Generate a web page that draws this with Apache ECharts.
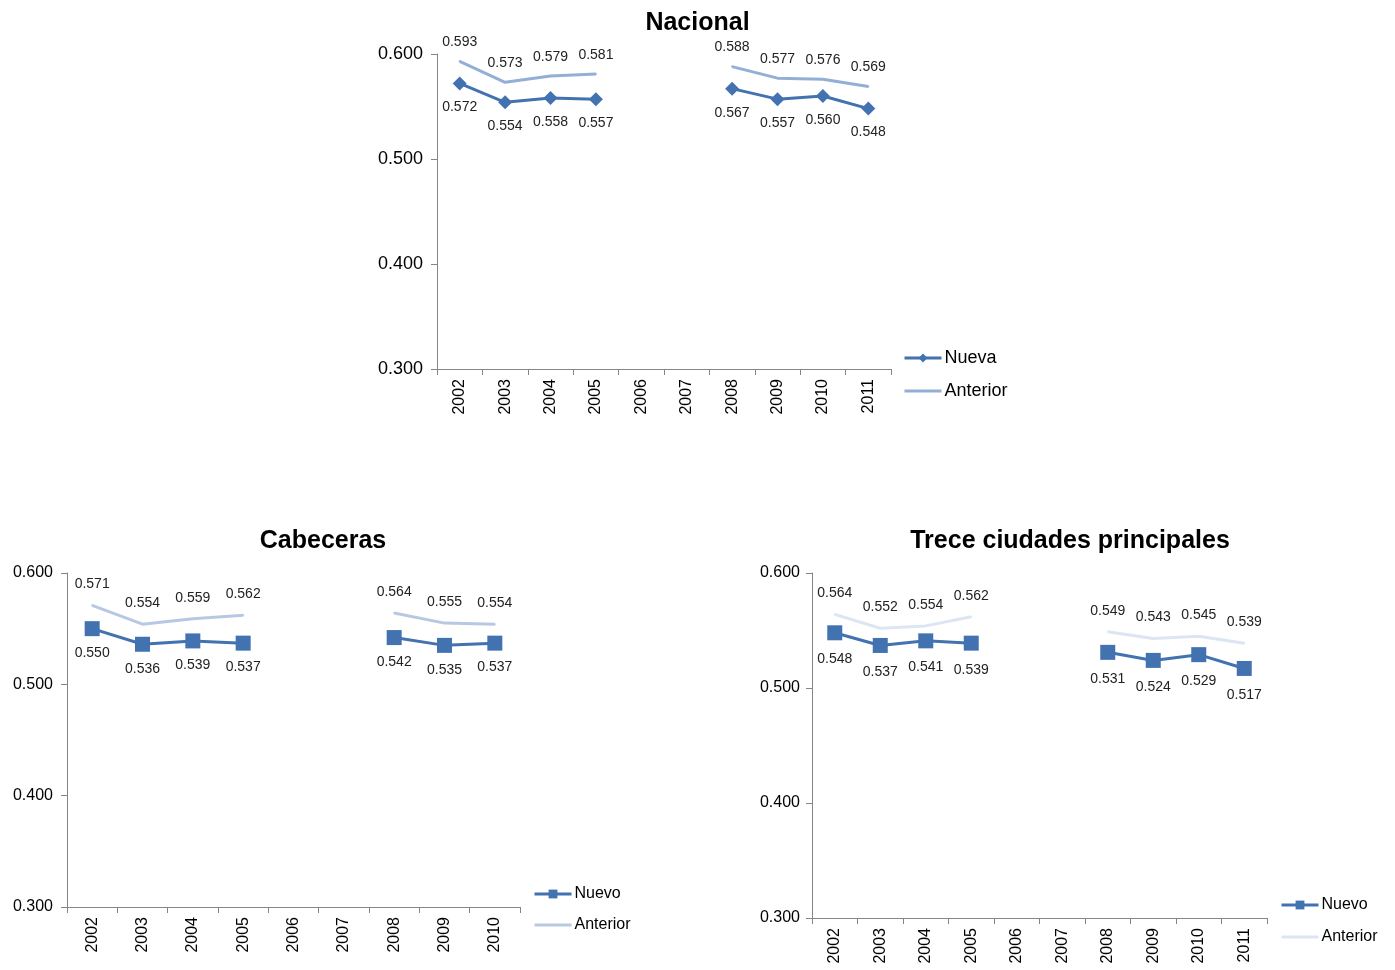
<!DOCTYPE html>
<html>
<head>
<meta charset="utf-8">
<script src="https://cdn.jsdelivr.net/npm/echarts@6/dist/echarts.min.js"></script>
<style>
html,body{margin:0;padding:0;background:#fff;width:1395px;height:970px;overflow:hidden;}
.c{position:absolute;}
</style>
</head>
<body>
<div id="nac" class="c" style="left:0;top:0;width:1395px;height:450px;"></div>
<div id="cab" class="c" style="left:0;top:470px;width:646px;height:500px;"></div>
<div id="tre" class="c" style="left:745px;top:470px;width:650px;height:500px;"></div>
<script>
const years10 = ['2002','2003','2004','2005','2006','2007','2008','2009','2010','2011'];
const years9 = ['2002','2003','2004','2005','2006','2007','2008','2009','2010'];
const yTicks = [0.300, 0.400, 0.500, 0.600];

const nacionalNueva    = [0.572,0.554,0.558,0.557,null,null,0.567,0.557,0.560,0.548];
const nacionalAnterior = [0.593,0.573,0.579,0.581,null,null,0.588,0.577,0.576,0.569];

const cabecerasNuevo    = [0.550,0.536,0.539,0.537,null,null,0.542,0.535,0.537];
const cabecerasAnterior = [0.571,0.554,0.559,0.562,null,null,0.564,0.555,0.554];

const treceNuevo    = [0.548,0.537,0.541,0.539,null,null,0.531,0.524,0.529,0.517];
const treceAnterior = [0.564,0.552,0.554,0.562,null,null,0.549,0.543,0.545,0.539];

const FONT = 'Liberation Sans, Arial, sans-serif';
const DARK = '#4272B0';
const AXIS = '#868686';

function build(cfg) {
  return {
    animation: false,
    textStyle: { fontFamily: FONT },
    title: {
      text: cfg.title, left: 'center', top: cfg.titleTop,
      textStyle: { fontFamily: FONT, fontSize: 25, fontWeight: 'bold', color: '#000' }
    },
    legend: {
      orient: 'vertical', left: cfg.legLeft, top: cfg.legTop, padding: 0,
      itemWidth: 37, itemHeight: 11, itemGap: cfg.legGap,
      textStyle: { fontFamily: FONT, fontSize: cfg.legFont, color: '#000', padding: [0, 0, 0, -2] },
      data: [
        { name: cfg.newName, lineStyle: { width: 3 } },
        { name: 'Anterior', lineStyle: { width: 3 }, itemStyle: { opacity: 0 } }
      ]
    },
    grid: { left: cfg.gl, top: cfg.gt, width: cfg.gw, height: cfg.gh },
    xAxis: {
      type: 'category', data: cfg.cats, boundaryGap: true,
      axisLine: { lineStyle: { color: AXIS } },
      axisTick: { show: true, length: 6, lineStyle: { color: AXIS } },
      axisLabel: { rotate: 90, margin: 10, fontSize: 16, color: '#000', fontFamily: FONT, interval: 0 },
      splitLine: { show: false }
    },
    yAxis: {
      type: 'value', min: yTicks[0], max: yTicks[yTicks.length - 1], interval: 0.1,
      axisLine: { show: true, lineStyle: { color: AXIS } },
      axisTick: { show: true, length: 6, lineStyle: { color: AXIS } },
      splitLine: { show: false },
      axisLabel: { fontSize: cfg.yFont, color: '#000', fontFamily: FONT, margin: cfg.yMargin,
        formatter: v => v.toFixed(3) }
    },
    series: [
      {
        name: cfg.newName, type: 'line', data: cfg.nueva, connectNulls: false,
        symbol: cfg.symbol, symbolSize: cfg.symbolSize, showAllSymbol: true,
        lineStyle: { color: DARK, width: 3 }, itemStyle: { color: DARK },
        label: { show: true, position: 'bottom', distance: cfg.dNew, fontSize: 14, color: '#222',
          fontFamily: FONT, formatter: p => p.value == null ? '' : Number(p.value).toFixed(3) },
        z: 3
      },
      {
        name: 'Anterior', type: 'line', data: cfg.anterior, connectNulls: false,
        symbol: 'circle', symbolSize: 2, showAllSymbol: true,
        lineStyle: { color: cfg.lightColor, width: 3 }, itemStyle: { color: cfg.lightColor },
        label: { show: true, position: 'top', distance: cfg.dOld, fontSize: 14, color: '#222',
          fontFamily: FONT, formatter: p => p.value == null ? '' : Number(p.value).toFixed(3) },
        z: 2
      }
    ]
  };
}

echarts.init(document.getElementById('nac')).setOption(build({
  title: 'Nacional', titleTop: 6,
  legLeft: 903, legTop: 349, legGap: 15, legFont: 18,
  gl: 437, gt: 54, gw: 454, gh: 315,
  cats: years10, yFont: 18, yMargin: 14,
  newName: 'Nueva', nueva: nacionalNueva, anterior: nacionalAnterior,
  symbol: 'diamond', symbolSize: 14, lightColor: '#94AFD5', dNew: 10, dOld: 11
}));

echarts.init(document.getElementById('cab')).setOption(build({
  title: 'Cabeceras', titleTop: 54,
  legLeft: 533, legTop: 416, legGap: 15, legFont: 16,
  gl: 67, gt: 103, gw: 453, gh: 334,
  cats: years9, yFont: 16, yMargin: 14,
  newName: 'Nuevo', nueva: cabecerasNuevo, anterior: cabecerasAnterior,
  symbol: 'rect', symbolSize: 15, lightColor: '#B7C9E2', dNew: 10, dOld: 13
}));

echarts.init(document.getElementById('tre')).setOption(build({
  title: 'Trece ciudades principales', titleTop: 54,
  legLeft: 535, legTop: 427, legGap: 16, legFont: 16,
  gl: 67, gt: 103, gw: 455, gh: 345,
  cats: years10, yFont: 16, yMargin: 12,
  newName: 'Nuevo', nueva: treceNuevo, anterior: treceAnterior,
  symbol: 'rect', symbolSize: 15, lightColor: '#DCE6F2', dNew: 12, dOld: 13
}));
</script>
</body>
</html>
